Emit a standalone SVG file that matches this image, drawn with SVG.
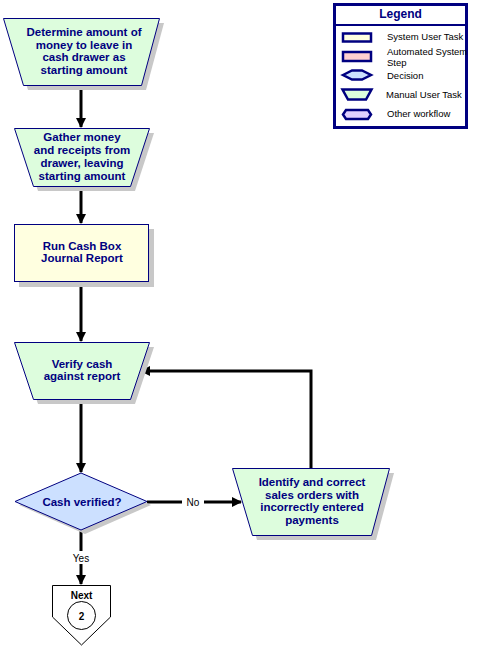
<svg xmlns="http://www.w3.org/2000/svg" width="479" height="648" viewBox="0 0 479 648">
<style>
.t{font-family:"Liberation Sans",Arial,sans-serif;font-size:11.5px;font-weight:bold;fill:#000080;text-anchor:middle}
.l{font-family:"Liberation Sans",Arial,sans-serif;font-size:9.5px;fill:#000;}
.lb{font-family:"Liberation Sans",Arial,sans-serif;font-size:10px;fill:#000;text-anchor:middle}
.sh{fill:#c8c8c8}
.man{fill:#ddfddd;stroke:#000080;stroke-width:1}
.sys{fill:#ffffe0;stroke:#000080;stroke-width:1}
.dec{fill:#cce0ff;stroke:#000080;stroke-width:1}
.c{stroke:#000;stroke-width:3;fill:none}
.li{stroke:#000080;stroke-width:2.5}
</style>
<defs>
<marker id="ah" markerWidth="10" markerHeight="10" refX="9" refY="5" orient="auto" markerUnits="userSpaceOnUse">
<path d="M0,0 L10,5 L0,10 Z" fill="#000"/>
</marker>
</defs>
<rect width="479" height="648" fill="#fff"/>

<g id="legend">
<rect x="334.5" y="4.5" width="132" height="123" fill="#fff" stroke="#000080" stroke-width="3"/>
<line x1="334.5" y1="25" x2="466.5" y2="25" stroke="#000080" stroke-width="2"/>
<text x="400.5" y="18" style="font-family:'Liberation Sans',Arial,sans-serif;font-size:12px;font-weight:bold;fill:#000080;text-anchor:middle">Legend</text>
<rect x="343" y="33.5" width="28" height="8" fill="#ffffe0" class="li"/>
<text x="387" y="40" class="l">System User Task</text>
<rect x="343" y="52" width="28" height="9" fill="#ffd0d0" class="li"/>
<text x="387" y="55" class="l">Automated System</text>
<text x="387" y="66" class="l">Step</text>
<path d="M343,75 L352,70.5 L362,70.5 L371,75 L362,79.5 L352,79.5 Z" fill="#cce0ff" class="li"/>
<text x="387" y="79" class="l">Decision</text>
<path d="M342.5,89.5 L371.5,89.5 L366,99.5 L348,99.5 Z" fill="#ddfddd" class="li"/>
<text x="386" y="98" class="l">Manual User Task</text>
<path d="M346,110 L368,110 L371,114.5 L368,119 L346,119 L343,114.5 Z" fill="#e0d0ff" class="li"/>
<text x="387" y="117" class="l">Other workflow</text>
</g>

<g id="connectors">
<line x1="81" y1="85" x2="81" y2="127" class="c" marker-end="url(#ah)"/>
<line x1="81" y1="186" x2="81" y2="223" class="c" marker-end="url(#ah)"/>
<line x1="81" y1="282" x2="81" y2="341" class="c" marker-end="url(#ah)"/>
<line x1="81" y1="399" x2="81" y2="472" class="c" marker-end="url(#ah)"/>
<line x1="81" y1="530" x2="81" y2="584" class="c" marker-end="url(#ah)"/>
<line x1="147" y1="502" x2="241" y2="502" class="c" marker-end="url(#ah)"/>
<polyline points="311,468 311,371 141,371" class="c" marker-end="url(#ah)"/>
<rect x="182" y="495" width="22" height="13" fill="#fff"/>
<text x="193" y="506" class="lb">No</text>
<rect x="69" y="551" width="24" height="13" fill="#fff"/>
<text x="81" y="562" class="lb">Yes</text>
</g>

<g id="n1">
<path d="M8,23 L164,23 L146,90 L28,90 Z" class="sh"/>
<path d="M3.5,18.5 L159.5,18.5 L141.5,85.5 L23.5,85.5 Z" class="man"/>
<text class="t"><tspan x="84" y="36">Determine amount of</tspan><tspan x="84" y="49">money to leave in</tspan><tspan x="84" y="61">cash drawer as</tspan><tspan x="84" y="74">starting amount</tspan></text>
</g>

<g id="n2">
<path d="M19,133 L154,133 L135,191 L38,191 Z" class="sh"/>
<path d="M14.5,128.5 L149.5,128.5 L130.5,186.5 L33.5,186.5 Z" class="man"/>
<text class="t"><tspan x="82" y="141">Gather money</tspan><tspan x="82" y="154">and receipts from</tspan><tspan x="82" y="167">drawer, leaving</tspan><tspan x="82" y="180">starting amount</tspan></text>
</g>

<g id="n3">
<rect x="19" y="229" width="135" height="58" class="sh"/>
<rect x="14.5" y="224.5" width="134" height="57" class="sys"/>
<text class="t"><tspan x="82" y="250">Run Cash Box</tspan><tspan x="82" y="262">Journal Report</tspan></text>
</g>

<g id="n4">
<path d="M19,347 L154,347 L135,404 L38,404 Z" class="sh"/>
<path d="M14.5,342.5 L149.5,342.5 L130.5,399.5 L33.5,399.5 Z" class="man"/>
<text class="t"><tspan x="82" y="368">Verify cash</tspan><tspan x="82" y="380">against report</tspan></text>
</g>

<g id="d1">
<path d="M19,505 L85,477 L151,505 L85,534 Z" class="sh"/>
<path d="M15,501.5 L81,473 L147,501.5 L81,530 Z" class="dec"/>
<text x="82" y="506" class="t">Cash verified?</text>
</g>

<g id="n5">
<path d="M237,473 L394,473 L376,540 L257,540 Z" class="sh"/>
<path d="M232.5,468.5 L389.5,468.5 L371.5,535.5 L252.5,535.5 Z" class="man"/>
<text class="t"><tspan x="312" y="486">Identify and correct</tspan><tspan x="312" y="499">sales orders with</tspan><tspan x="312" y="511">incorrectly entered</tspan><tspan x="312" y="524">payments</tspan></text>
</g>

<g id="next">
<path d="M52.5,585.5 L110.5,585.5 L110.5,617 L81.5,645 L52.5,617 Z" fill="#fff" stroke="#000" stroke-width="1"/>
<circle cx="81.5" cy="615.5" r="14" fill="#fff" stroke="#000" stroke-width="1"/>
<text x="81.5" y="599" style="font-family:'Liberation Sans',Arial,sans-serif;font-size:10px;font-weight:bold;fill:#000;text-anchor:middle">Next</text>
<text x="81.5" y="619.5" style="font-family:'Liberation Sans',Arial,sans-serif;font-size:10px;font-weight:bold;fill:#000;text-anchor:middle">2</text>
</g>
</svg>
